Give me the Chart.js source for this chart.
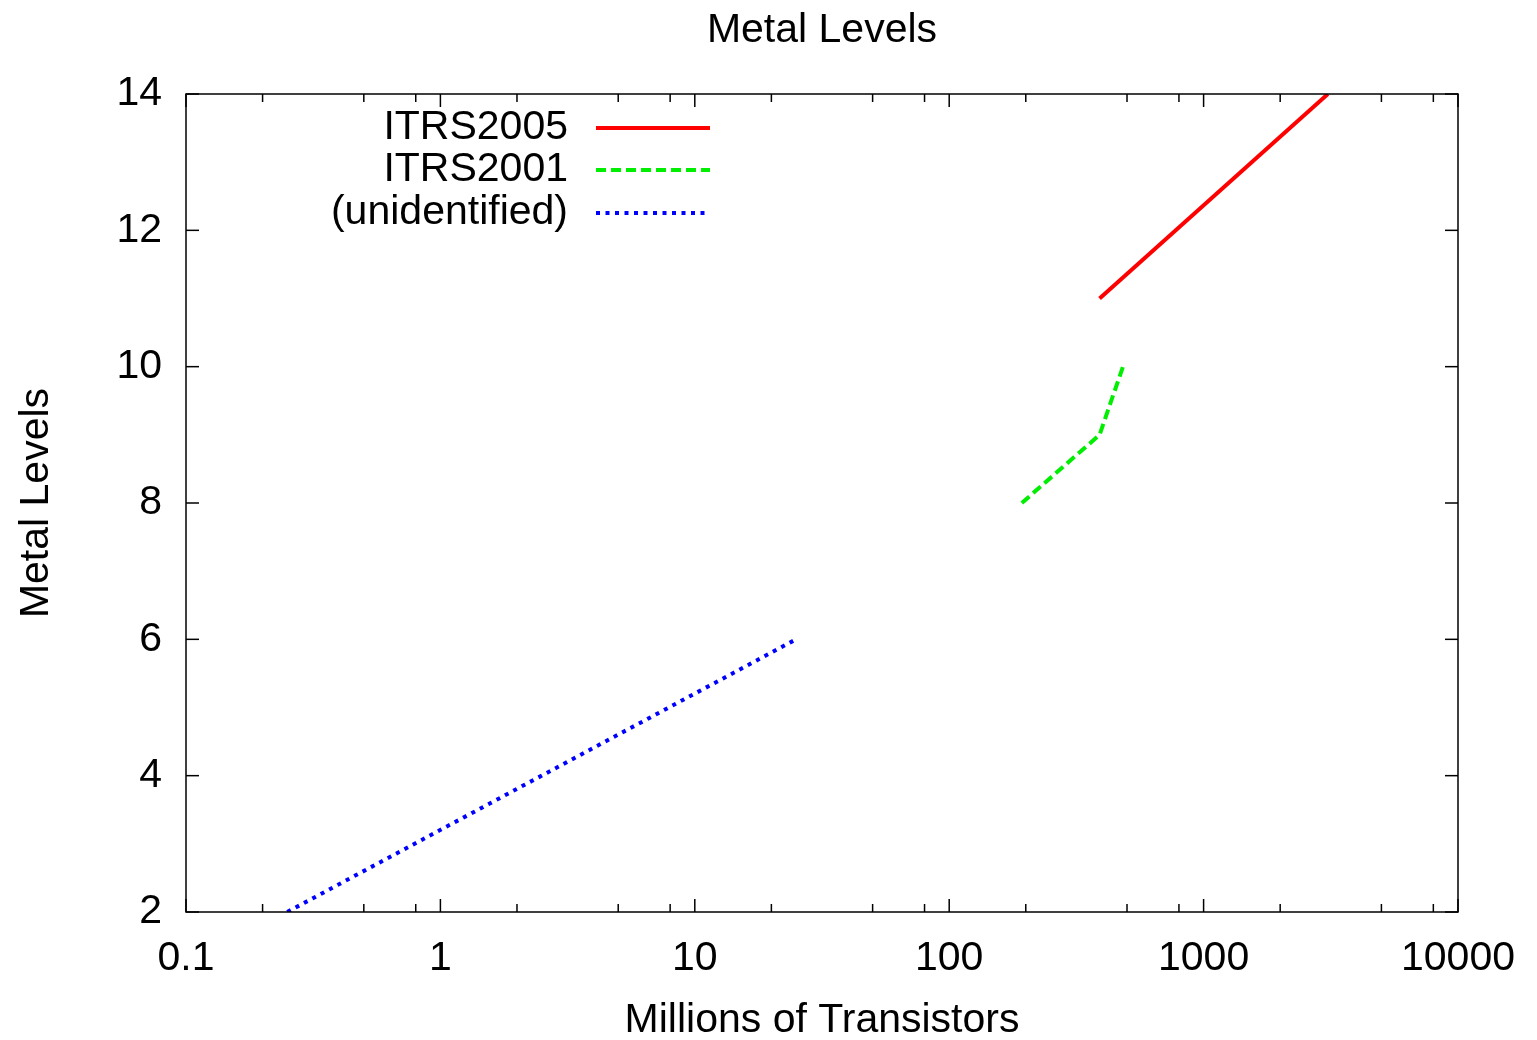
<!DOCTYPE html>
<html>
<head>
<meta charset="utf-8">
<script src="https://cdn.jsdelivr.net/npm/chart.js@4.4.1/dist/chart.umd.min.js"></script>
<style>
  html, body { margin: 0; padding: 0; background: #fff; }
  #wrap { width: 1537px; height: 1040px; }
</style>
</head>
<body>
<div id="wrap"><canvas id="chart" width="1537" height="1040"></canvas></div>
<script>
// Metal levels vs transistor count (log x)
const chartTitle = 'Metal Levels';
const itrs2005X = [390, 3080];
const itrs2005Y = [11, 14];
const itrs2001X = [193, 390, 482];
const itrs2001Y = [8, 9, 10];
const unidentX = [0.25, 25];
const unidentY = [2, 6];

const xMajorTicks = [0.1, 1, 10, 100, 1000, 10000];
const xMinorSteps = [2, 5, 8];
const yTicks = [2, 4, 6, 8, 10, 12, 14];

const FONT = '"Liberation Sans", Arial, sans-serif';
const toPoints = (xs, ys) => xs.map((x, i) => ({ x: x, y: ys[i] }));

// box + inward tick marks on all four sides, title over the plot, gnuplot-style key
const framePlugin = {
    id: 'frame',
    afterDatasetsDraw(chart) {
        const { ctx, chartArea: a, scales } = chart;
        const xs = scales.x, ys = scales.y;
        ctx.save();
        ctx.strokeStyle = '#000';
        ctx.lineWidth = 1.5;

        const tick = (x1, y1, x2, y2) => {
            ctx.beginPath();
            ctx.moveTo(x1, y1);
            ctx.lineTo(x2, y2);
            ctx.stroke();
        };

        xMajorTicks.forEach((v, i) => {
            const px = xs.getPixelForValue(v);
            tick(px, a.bottom, px, a.bottom - 13);
            tick(px, a.top, px, a.top + 13);
            if (i < xMajorTicks.length - 1) {
                xMinorSteps.forEach(m => {
                    const mp = xs.getPixelForValue(v * m);
                    tick(mp, a.bottom, mp, a.bottom - 8);
                    tick(mp, a.top, mp, a.top + 8);
                });
            }
        });
        yTicks.forEach(v => {
            const py = ys.getPixelForValue(v);
            tick(a.left, py, a.left + 13, py);
            tick(a.right, py, a.right - 13, py);
        });

        ctx.strokeRect(a.left, a.top, a.right - a.left, a.bottom - a.top);

        ctx.font = '41px ' + FONT;
        ctx.fillStyle = '#000';

        // title centred over the plot area
        ctx.textAlign = 'center';
        ctx.textBaseline = 'middle';
        ctx.fillText(chartTitle, (a.left + a.right) / 2, 31);

        // key
        ctx.textAlign = 'right';
        const rowY = [128, 170, 213];
        chart.data.datasets.forEach((ds, i) => {
            ctx.fillText(ds.label, 568, rowY[i]);
            ctx.beginPath();
            ctx.strokeStyle = ds.borderColor;
            ctx.lineWidth = ds.borderWidth;
            ctx.setLineDash(ds.borderDash || []);
            ctx.moveTo(596, rowY[i]);
            ctx.lineTo(710, rowY[i]);
            ctx.stroke();
            ctx.setLineDash([]);
        });
        ctx.restore();
    }
};

const ctx = document.getElementById('chart').getContext('2d');
new Chart(ctx, {
    type: 'scatter',
    data: {
        datasets: [
            {
                label: 'ITRS2005',
                data: toPoints(itrs2005X, itrs2005Y),
                showLine: true,
                borderColor: '#ff0000',
                borderWidth: 4,
                pointRadius: 0
            },
            {
                label: 'ITRS2001',
                data: toPoints(itrs2001X, itrs2001Y),
                showLine: true,
                borderColor: '#00ee00',
                borderWidth: 4,
                borderDash: [10, 5],
                pointRadius: 0
            },
            {
                label: '(unidentified)',
                data: toPoints(unidentX, unidentY),
                showLine: true,
                borderColor: '#0000ff',
                borderWidth: 4,
                borderDash: [4, 5.5],
                pointRadius: 0
            }
        ]
    },
    options: {
        responsive: false,
        animation: false,
        devicePixelRatio: 1,
        layout: { padding: { left: 0, right: 79, top: 94, bottom: 0 } },
        plugins: {
            legend: { display: false },
            tooltip: { enabled: false },
            title: { display: false }
        },
        scales: {
            x: {
                type: 'logarithmic',
                min: 0.1,
                max: 10000,
                afterBuildTicks: scale => {
                    scale.ticks = xMajorTicks.map(v => ({ value: v }));
                },
                afterFit: scale => { scale.height = 128; },
                grid: { display: false, drawTicks: false },
                border: { display: false },
                ticks: {
                    color: '#000',
                    font: { family: FONT, size: 41 },
                    padding: 22,
                    maxRotation: 0,
                    autoSkip: false,
                    callback: v => String(v)
                },
                title: {
                    display: true,
                    text: 'Millions of Transistors',
                    color: '#000',
                    font: { family: FONT, size: 41 },
                    padding: { top: 4, bottom: -5 }
                }
            },
            y: {
                min: 2,
                max: 14,
                afterBuildTicks: scale => {
                    scale.ticks = yTicks.map(v => ({ value: v }));
                },
                afterFit: scale => { scale.width = 186; },
                grid: { display: false, drawTicks: false },
                border: { display: false },
                ticks: {
                    color: '#000',
                    font: { family: FONT, size: 41 },
                    padding: 24
                },
                title: {
                    display: true,
                    text: 'Metal Levels',
                    color: '#000',
                    font: { family: FONT, size: 41 },
                    padding: { top: 12, bottom: 4 }
                }
            }
        }
    },
    plugins: [framePlugin]
});
</script>
</body>
</html>
